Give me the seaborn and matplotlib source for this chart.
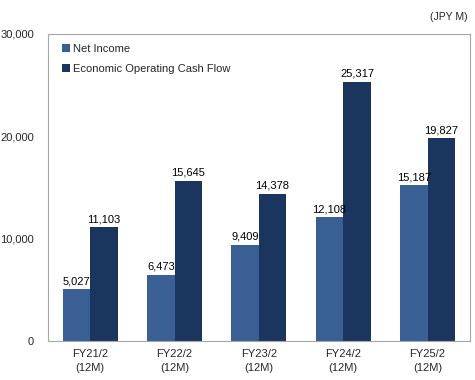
import matplotlib
matplotlib.use("Agg")
import matplotlib.pyplot as plt
import numpy as np
import pandas as pd
import seaborn as sns

# chart values
periods = ["FY21/2\n(12M)", "FY22/2\n(12M)", "FY23/2\n(12M)", "FY24/2\n(12M)", "FY25/2\n(12M)"]
net_income = [5027, 6473, 9409, 12108, 15187]
operating_cf = [11103, 15645, 14378, 25317, 19827]
series_names = ["Net Income", "Economic Operating Cash Flow"]
y_ticks = [0, 10000, 20000, 30000]

df = pd.DataFrame({
    "period": periods * 2,
    "value": net_income + operating_cf,
    "series": [series_names[0]] * len(periods) + [series_names[1]] * len(periods),
})

sns.set_style("white")
plt.rcParams["font.family"] = ["Liberation Sans", "DejaVu Sans"]
plt.rcParams["font.size"] = 8

fig = plt.figure(figsize=(4.75, 3.8), dpi=100)
ax = fig.add_axes([0.101, 0.103, 0.888, 0.808])

palette = ["#3A5F94", "#1B365E"]
sns.barplot(data=df, x="period", y="value", hue="series", palette=palette,
            width=0.65, saturation=1, ax=ax, edgecolor="none")

# value labels
for cont in ax.containers:
    ax.bar_label(cont, labels=[f"{v:,.0f}" for v in cont.datavalues],
                 padding=2, fontsize=8, color="black")

ax.set_ylim(0, 30000)
ax.set_yticks(y_ticks)
ax.set_yticklabels([f"{t:,}" for t in y_ticks])
ax.set_xlim(-0.5, 4.5)
ax.set_xlabel("")
ax.set_ylabel("")
ax.tick_params(axis="both", length=0, labelsize=8, pad=6)
ax.tick_params(axis="y", pad=10)
for lbl in ax.get_xticklabels():
    lbl.set_linespacing(1.45)

for sp in ax.spines.values():
    sp.set_color("#A6A6A6")
    sp.set_linewidth(0.8)

leg = ax.legend(loc="upper left", bbox_to_anchor=(0.01, 1.0), frameon=False,
                handlelength=0.7, handleheight=0.7, handletextpad=0.3,
                labelspacing=0.9, fontsize=8)

fig.text(0.985, 0.955, "(JPY M)", ha="right", va="center", fontsize=7.5)

fig.savefig("out.png", dpi=100)
